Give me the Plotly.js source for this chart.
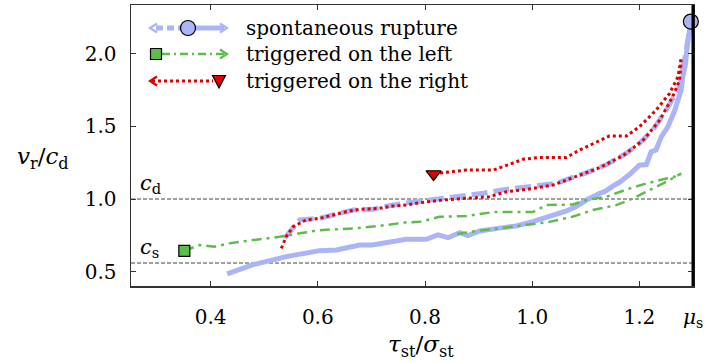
<!DOCTYPE html>
<html>
<head>
<meta charset="utf-8">
<script src="https://cdn.plot.ly/plotly-3.0.1.min.js"></script>
<style>
  html, body { margin: 0; padding: 0; background: #fff; }
  #chart { width: 707px; height: 363px; }
</style>
</head>
<body>
<div id="chart"></div>
<script>
// Rupture-front speed v_r / c_d against the stress ratio tau_st / sigma_st at the front.

// ---- data ---------------------------------------------------------------
const seriesNames = ['spontaneous rupture', 'triggered on the left', 'triggered on the right'];

// spontaneous rupture, front moving right (solid)
const spontRightX = [0.431, 0.478, 0.541, 0.603, 0.635, 0.678, 0.702, 0.765, 0.802, 0.824, 0.843, 0.865,
  0.880, 0.902, 0.939, 0.970, 1.001, 1.032, 1.064, 1.082, 1.101, 1.126, 1.135, 1.151, 1.163, 1.182, 1.200,
  1.213, 1.222, 1.231, 1.241, 1.253, 1.259, 1.265, 1.272, 1.278, 1.281, 1.286, 1.289, 1.292, 1.296];
const spontRightY = [0.485, 0.547, 0.604, 0.645, 0.650, 0.684, 0.684, 0.723, 0.723, 0.753, 0.734, 0.768,
  0.748, 0.780, 0.800, 0.815, 0.844, 0.879, 0.918, 0.948, 0.993, 1.040, 1.050, 1.090, 1.115, 1.170, 1.233,
  1.237, 1.325, 1.337, 1.428, 1.497, 1.540, 1.600, 1.680, 1.750, 1.840, 1.930, 2.040, 2.110, 2.220];

// spontaneous rupture, front moving left (dashed)
const spontLeftX = [0.538, 0.566, 0.603, 0.641, 0.666, 0.703, 0.722, 0.765, 0.802, 0.846, 0.877, 0.908,
  0.952, 0.983, 1.014, 1.045, 1.070, 1.101, 1.138, 1.176, 1.200, 1.225, 1.250, 1.262, 1.275, 1.281, 1.288,
  1.294, 1.296];
const spontLeftY = [0.730, 0.856, 0.867, 0.900, 0.924, 0.929, 0.947, 0.972, 0.988, 1.009, 1.020, 1.039,
  1.067, 1.078, 1.096, 1.107, 1.142, 1.180, 1.235, 1.315, 1.382, 1.474, 1.611, 1.680, 1.770, 1.885, 2.045,
  2.160, 2.220];

// triggered on the left: two fronts (dash-dot)
const leftUpperX = [0.351, 0.379, 0.407, 0.435, 0.479, 0.529, 0.566, 0.603, 0.666, 0.728, 0.765, 0.790,
  0.827, 0.877, 0.927, 1.001, 1.026, 1.076, 1.101, 1.138, 1.176, 1.213, 1.250, 1.278];
const leftUpperY = [0.644, 0.683, 0.672, 0.695, 0.718, 0.740, 0.764, 0.786, 0.798, 0.821, 0.840, 0.843,
  0.878, 0.883, 0.910, 0.910, 0.958, 0.963, 0.993, 1.015, 1.066, 1.107, 1.141, 1.164];
const leftLowerX = [0.860, 0.896, 0.939, 0.989, 1.032, 1.075, 1.113, 1.157, 1.188, 1.219, 1.250, 1.278];
const leftLowerY = [0.760, 0.780, 0.798, 0.821, 0.843, 0.878, 0.924, 0.958, 1.004, 1.061, 1.118, 1.176];

// triggered on the right: two fronts (dotted)
const rightUpperX = [0.817, 0.833, 0.877, 0.927, 0.945, 0.983, 1.014, 1.064, 1.088, 1.120, 1.144, 1.176,
  1.200, 1.231, 1.256, 1.272, 1.278];
const rightUpperY = [1.172, 1.181, 1.199, 1.199, 1.222, 1.273, 1.286, 1.286, 1.336, 1.394, 1.433, 1.433,
  1.497, 1.611, 1.725, 1.840, 1.970];
const rightLowerX = [0.532, 0.541, 0.554, 0.578, 0.603, 0.628, 0.653, 0.678, 0.715, 0.740, 0.765, 0.790,
  0.833, 0.877, 0.920, 0.952, 0.989, 1.039, 1.082, 1.126, 1.170, 1.207, 1.238, 1.262, 1.275, 1.278];
const rightLowerY = [0.661, 0.741, 0.810, 0.856, 0.867, 0.890, 0.913, 0.929, 0.936, 0.952, 0.959, 0.975,
  0.993, 1.005, 1.016, 1.050, 1.066, 1.096, 1.153, 1.216, 1.300, 1.405, 1.542, 1.703, 1.817, 1.954];

// nucleation points
const nucSpontX = [1.296], nucSpontY = [2.22];
const nucLeftX = [0.351], nucLeftY = [0.644];
const nucRightX = [0.816], nucRightY = [1.172];

// reference wave speeds and static friction
const cD = 1.0, cS = 0.56, muS = 1.3;

const xTickVals = [0.4, 0.6, 0.8, 1.0, 1.2, muS];
const xTickText = ['0.4', '0.6', '0.8', '1.0', '1.2', '<i>μ</i><sub>s</sub>'];
const yTickVals = [0.5, 1.0, 1.5, 2.0];
const yTickText = ['0.5', '1.0', '1.5', '2.0'];

// ---- styles -------------------------------------------------------------
const FONT = 'DejaVu Serif';
const FS_TICK = 20, FS_TEXT = 20, FS_TITLE = 23;
const BLUE = '#aab4f6', GREEN = '#5cbd4a', RED = '#e00000';
const BLUE_DASH = '16px,6px', GREEN_DASH = '10px,5px,3px,5px', RED_DASH = '3px,3px';

const W = 707, H = 363;
const M = { l: 131, r: 14, t: 5, b: 77 };
const PW = W - M.l - M.r, PH = H - M.t - M.b;
const px = v => (v - M.l) / PW;        // pixel column -> paper x
const py = v => (H - M.b - v) / PH;    // pixel row -> paper y

const line = (x, y, color, width, dash) => ({
  type: 'scatter', mode: 'lines', x, y, showlegend: false, hoverinfo: 'skip',
  line: { color, width, dash, shape: 'linear' }
});
const marker = (x, y, symbol, color, size) => ({
  type: 'scatter', mode: 'markers', x, y, showlegend: false, hoverinfo: 'skip', cliponaxis: false,
  marker: { symbol, color, size, line: { color: '#000', width: 1.2 } }
});

const traces = [
  line(spontRightX, spontRightY, BLUE, 5, 'solid'),
  line(spontLeftX, spontLeftY, BLUE, 5, BLUE_DASH),
  line(leftUpperX, leftUpperY, GREEN, 2.5, GREEN_DASH),
  line(leftLowerX, leftLowerY, GREEN, 2.5, GREEN_DASH),
  line(rightLowerX, rightLowerY, RED, 3, RED_DASH),
  line(rightUpperX, rightUpperY, RED, 3, RED_DASH),
  marker(nucLeftX, nucLeftY, 'square', GREEN, 11),
  marker(nucRightX, nucRightY, 'triangle-down', RED, 13),
  marker(nucSpontX, nucSpontY, 'circle', BLUE, 15)
];

// ---- legend drawn with shapes (arrows show the direction of propagation) ----
const shapes = [];
const annotations = [];
const seg = (x0, y0, x1, y1, color, width, dash) => shapes.push({
  type: 'line', xref: 'paper', yref: 'paper', x0: px(x0), y0: py(y0), x1: px(x1), y1: py(y1),
  line: { color, width, dash }
});
const chevron = (tipX, y, dir, color) => shapes.push({
  type: 'path', xref: 'paper', yref: 'paper',
  path: `M ${px(tipX - dir * 7)} ${py(y - 4.5)} L ${px(tipX)} ${py(y)} L ${px(tipX - dir * 7)} ${py(y + 4.5)}`,
  line: { color, width: 2.2 }
});
const rows = [28, 54, 81];
// spontaneous: dashed to the left, solid to the right, circle in between
seg(156, rows[0], 181, rows[0], BLUE, 5, '7px,4px');
chevron(150, rows[0], -1, BLUE);
seg(195, rows[0], 224, rows[0], BLUE, 5, 'solid');
chevron(227, rows[0], 1, BLUE);
shapes.push({ type: 'circle', xref: 'paper', yref: 'paper', x0: px(180.5), x1: px(195.5),
  y0: py(rows[0] + 7.5), y1: py(rows[0] - 7.5), fillcolor: BLUE, line: { color: '#000', width: 1.2 } });
// triggered on the left: square, dash-dot to the right
seg(162, rows[1], 225, rows[1], GREEN, 2.5, '8px,4px,2px,4px');
chevron(227, rows[1], 1, GREEN);
shapes.push({ type: 'rect', xref: 'paper', yref: 'paper', x0: px(150.5), x1: px(161.5),
  y0: py(rows[1] + 5.5), y1: py(rows[1] - 5.5), fillcolor: GREEN, line: { color: '#000', width: 1.2 } });
// triggered on the right: dotted to the left, triangle
seg(152, rows[2], 213, rows[2], RED, 3, RED_DASH);
chevron(150, rows[2], -1, RED);
shapes.push({ type: 'path', xref: 'paper', yref: 'paper',
  path: `M ${px(212.5)} ${py(rows[2] - 5.5)} L ${px(225.5)} ${py(rows[2] - 5.5)} L ${px(219)} ${py(rows[2] + 7)} Z`,
  fillcolor: RED, line: { color: '#000', width: 1.2 } });

seriesNames.forEach((name, i) => annotations.push({
  xref: 'paper', yref: 'paper', x: px(244), y: py(rows[i]), xanchor: 'left', yanchor: 'middle',
  text: name, showarrow: false, font: { family: FONT, size: FS_TEXT, color: '#000' }
}));

// reference speeds
[[cD, '<i>c</i><sub>d</sub>'], [cS, '<i>c</i><sub>s</sub>']].forEach(([v, label]) => {
  shapes.push({ type: 'line', xref: 'paper', yref: 'y', x0: 0, x1: 1, y0: v, y1: v, layer: 'below',
    line: { color: '#444', width: 1, dash: '4px,2px' } });
  annotations.push({ xref: 'paper', yref: 'y', x: px(138), y: v, xanchor: 'left', yanchor: 'bottom',
    yshift: 0, text: label, showarrow: false, font: { family: FONT, size: FS_TEXT + 1, color: '#000' } });
});

// static friction limit on the right edge
shapes.push({ type: 'line', xref: 'paper', yref: 'paper', x0: 1, x1: 1, y0: 0, y1: 1,
  line: { color: '#000', width: 3 } });

// axis titles
annotations.push({ xref: 'paper', yref: 'paper', x: px(43), y: py(158), xanchor: 'center', yanchor: 'middle',
  text: '<i>v</i><sub>r</sub>/<i>c</i><sub>d</sub>', showarrow: false, font: { family: FONT, size: FS_TITLE, color: '#000' } });
annotations.push({ xref: 'paper', yref: 'paper', x: px(421), y: py(346), xanchor: 'center', yanchor: 'middle',
  text: '<i>τ</i><sub>st</sub>/<i>σ</i><sub>st</sub>', showarrow: false, font: { family: FONT, size: FS_TITLE, color: '#000' } });

const axisCommon = {
  showgrid: false, zeroline: false, showline: true, linecolor: '#333', linewidth: 1.5, mirror: 'ticks',
  ticks: 'inside', ticklen: 5, tickwidth: 1, tickcolor: '#333',
  tickfont: { family: FONT, size: FS_TICK, color: '#000' }, tickmode: 'array'
};

const layout = {
  width: W, height: H, margin: M, paper_bgcolor: '#fff', plot_bgcolor: '#fff', showlegend: false,
  font: { family: FONT, size: FS_TICK, color: '#000' },
  xaxis: Object.assign({}, axisCommon, { range: [0.2515, muS], tickvals: xTickVals, ticktext: xTickText,
    ticklabelstandoff: 12 }),
  yaxis: Object.assign({}, axisCommon, { range: [0.402, 2.334], tickvals: yTickVals, ticktext: yTickText,
    ticklabelstandoff: 9 }),
  shapes, annotations
};

Plotly.newPlot('chart', traces, layout, { displayModeBar: false, staticPlot: true });
</script>
</body>
</html>
